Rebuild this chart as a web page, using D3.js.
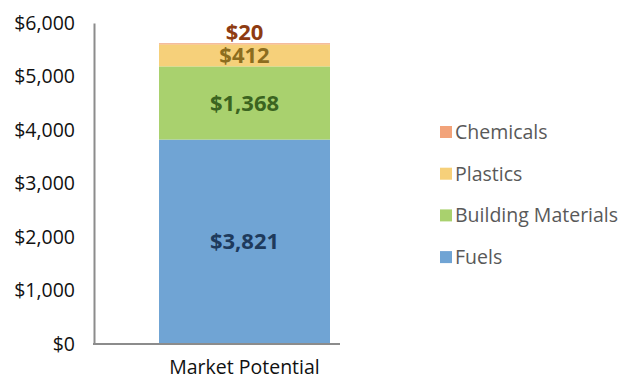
<!DOCTYPE html>
<html>
<head>
<meta charset="utf-8">
<script src="https://cdn.jsdelivr.net/npm/d3@7"></script>
<style>
  html, body { margin: 0; padding: 0; background: #fff; }
  svg text { font-family: "Open Sans", "Noto Sans", sans-serif; }
</style>
</head>
<body>
<svg id="chart" width="626" height="380"></svg>
<script>
// Stacked market potential by segment (bottom to top)
const categories = ["Market Potential"];
const seriesNames = ["Fuels", "Building Materials", "Plastics", "Chemicals"];
const fuels = [3821];
const buildingMaterials = [1368];
const plastics = [412];
const chemicals = [20];
const yTicks = [0, 1000, 2000, 3000, 4000, 5000, 6000];

const fillColors = ["#70a4d4", "#a9d16e", "#f6d07a", "#f2a37a"];
const labelColors = ["#1e3a5c", "#3b6420", "#8c6d1f", "#8e3b12"];

const rows = categories.map((c, i) => ({
  category: c,
  "Fuels": fuels[i],
  "Building Materials": buildingMaterials[i],
  "Plastics": plastics[i],
  "Chemicals": chemicals[i]
}));

const svg = d3.select("#chart");
const plotLeft = 94, plotRight = 340, plotTop = 23, plotBottom = 344;

// The single category band sits a little right of centre in the plot area
const x = d3.scaleBand().domain(categories).range([159, 330]).padding(0);
const y = d3.scaleLinear().domain([0, 6000]).range([plotBottom, plotTop]);

const stack = d3.stack().keys(seriesNames)(rows);
const fmt = d3.format("$,");

// Bars
const layers = svg.append("g").selectAll("g").data(stack).join("g")
  .attr("fill", (d, i) => fillColors[i]);
layers.selectAll("rect").data(d => d).join("rect")
  .attr("x", d => x(d.data.category))
  .attr("width", x.bandwidth())
  .attr("y", d => y(d[1]))
  .attr("height", d => y(d[0]) - y(d[1]));

// Y axis
const yAxis = svg.append("g").attr("transform", `translate(${plotLeft},0)`)
  .call(d3.axisLeft(y).tickValues(yTicks).tickFormat(fmt).tickSize(0).tickPadding(19));
yAxis.select(".domain").attr("stroke", "#8c8c8c").attr("stroke-width", 2);
yAxis.selectAll("text").attr("font-size", 19.5).attr("fill", "#111");

// X axis: baseline spans the plot area, label under the bar
const xAxis = svg.append("g").attr("transform", `translate(0,${plotBottom})`)
  .call(d3.axisBottom(x).tickSize(0).tickPadding(16));
xAxis.select(".domain").remove();
xAxis.append("line").attr("x1", plotLeft - 1).attr("x2", plotRight)
  .attr("stroke", "#8c8c8c").attr("stroke-width", 2);
xAxis.selectAll("text").attr("font-size", 19.5).attr("fill", "#111");

// Value labels
stack.forEach((layer, i) => {
  layer.forEach(d => {
    let cy = (y(d[0]) + y(d[1])) / 2;
    if (seriesNames[i] === "Chemicals") cy = y(d[1]) - 11;
    svg.append("text")
      .attr("x", x(d.data.category) + x.bandwidth() / 2)
      .attr("y", cy)
      .attr("dy", "0.35em")
      .attr("text-anchor", "middle")
      .attr("font-size", 22)
      .attr("font-weight", "bold")
      .attr("fill", labelColors[i])
      .text(fmt(d[1] - d[0]));
  });
});

// Legend (top entry is the top of the stack)
const legendOrder = seriesNames.slice().reverse();
const legend = svg.append("g").attr("transform", "translate(440,132)");
legendOrder.forEach((name, i) => {
  const g = legend.append("g").attr("transform", `translate(0,${i * 41.7})`);
  g.append("rect").attr("x", 0).attr("y", -6).attr("width", 12).attr("height", 12)
    .attr("fill", fillColors[seriesNames.indexOf(name)]);
  g.append("text").attr("x", 15).attr("dy", "0.35em")
    .attr("font-size", 19.5).attr("fill", "#595959").text(name);
});
</script>
</body>
</html>
